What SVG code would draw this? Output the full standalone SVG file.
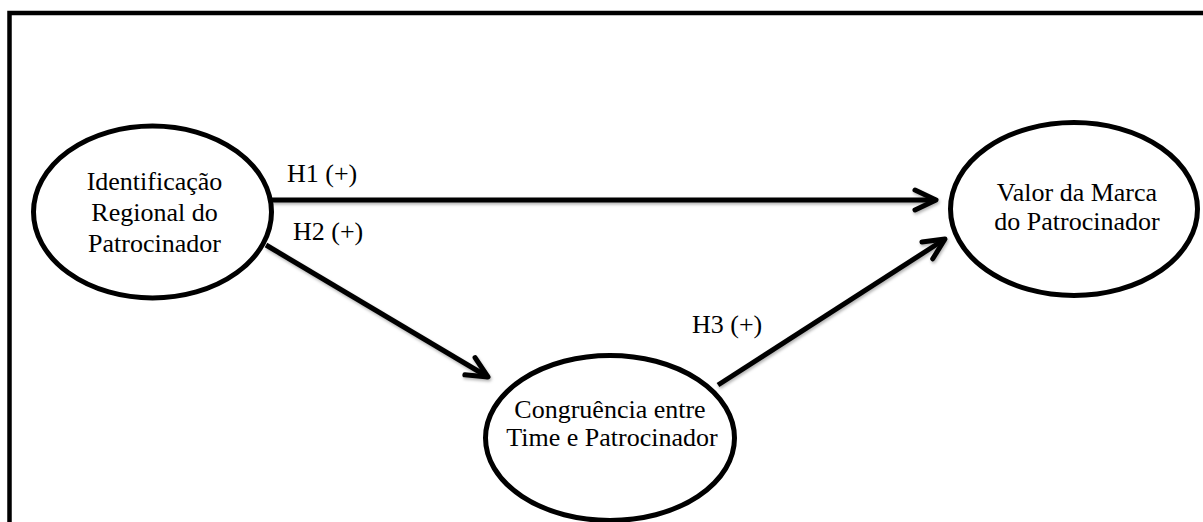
<svg xmlns="http://www.w3.org/2000/svg" width="1203" height="522" viewBox="0 0 1203 522">
  <style>
    .node { fill: #ffffff; stroke: #000000; stroke-width: 5; }
    .label { font-family: "Liberation Serif", "Times New Roman", serif; font-size: 26px; fill: #000000; }
    .mid { text-anchor: middle; }
    .conn { stroke: #000000; stroke-width: 5; fill: none; marker-end: url(#arrow); }
  </style>
  <defs>
    <marker id="arrow" markerUnits="userSpaceOnUse" markerWidth="40" markerHeight="40" viewBox="-30 -20 40 40" refX="0" refY="0" orient="auto">
      <path d="M-21,-10 L0,0 L-21,10" fill="none" stroke="#000000" stroke-width="5" stroke-linecap="round" stroke-linejoin="round"/>
    </marker>
    <filter id="shadow" x="-10%" y="-10%" width="120%" height="130%">
      <feDropShadow dx="1" dy="2" stdDeviation="1.5" flood-color="#000000" flood-opacity="0.3"/>
    </filter>
  </defs>
  <rect x="0" y="0" width="1203" height="522" fill="#ffffff"/>
  <path d="M9.5,530 V13 H1210" fill="none" stroke="#000000" stroke-width="4.5"/>

  <g id="connectors" filter="url(#shadow)">
    <line class="conn" x1="272" y1="200" x2="936" y2="200"/>
    <line class="conn" x1="266" y1="245" x2="488" y2="377"/>
    <line class="conn" x1="718" y1="385" x2="945" y2="239"/>
  </g>

  <g id="identificacao">
    <ellipse class="node" cx="152.5" cy="212" rx="119" ry="86"/>
    <text class="label mid" x="154.5" y="190">Identificação</text>
    <text class="label mid" x="154.5" y="221">Regional do</text>
    <text class="label mid" x="154.5" y="252">Patrocinador</text>
  </g>

  <g id="valor">
    <ellipse class="node" cx="1074" cy="209" rx="123.5" ry="86.5"/>
    <text class="label mid" x="1077" y="201">Valor da Marca</text>
    <text class="label mid" x="1077" y="230">do Patrocinador</text>
  </g>

  <g id="congruencia">
    <ellipse class="node" cx="610" cy="438" rx="124.5" ry="82.5"/>
    <text class="label mid" x="610" y="418">Congruência entre</text>
    <text class="label mid" x="612" y="446">Time e Patrocinador</text>
  </g>

  <g id="labels">
    <text class="label" x="287" y="182">H1 (+)</text>
    <text class="label" x="293" y="240">H2 (+)</text>
    <text class="label" x="692" y="333">H3 (+)</text>
  </g>
</svg>
